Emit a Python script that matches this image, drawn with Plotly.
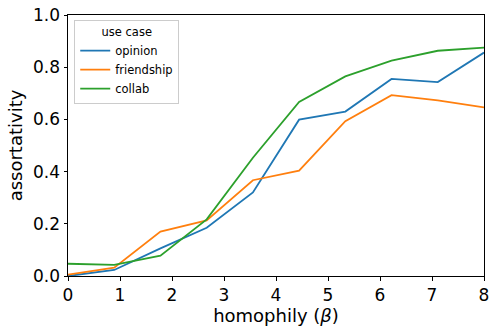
import plotly.graph_objects as go

FONT = "DejaVu Sans"
BLUE = "#1f77b4"
ORANGE = "#ff7f0e"
GREEN = "#2ca02c"

beta = [0, 0.889, 1.778, 2.667, 3.556, 4.444, 5.333, 6.222, 7.111, 8]
opinion = [0.0, 0.023, 0.106, 0.185, 0.32, 0.599, 0.63, 0.755, 0.743, 0.856]
friendship = [0.005, 0.032, 0.17, 0.213, 0.367, 0.404, 0.593, 0.693, 0.673, 0.646]
collab = [0.047, 0.043, 0.078, 0.217, 0.453, 0.667, 0.765, 0.825, 0.863, 0.875]

fig = go.Figure()
for name, ys, color in [("opinion", opinion, BLUE),
                        ("friendship", friendship, ORANGE),
                        ("collab", collab, GREEN)]:
    fig.add_trace(go.Scatter(
        x=beta, y=ys, mode="lines", name=name,
        line=dict(color=color, width=1.8),
    ))

fig.update_layout(
    width=499, height=335,
    plot_bgcolor="white", paper_bgcolor="white",
    font=dict(family=FONT, color="black", size=17),
    margin=dict(l=68, r=15, t=15, b=59),
    legend=dict(
        x=0.015, y=0.98, xanchor="left", yanchor="top",
        title=dict(text="use case", side="top center", font=dict(size=11.5)),
        font=dict(size=11.5),
        bgcolor="rgba(255,255,255,0.8)",
        bordercolor="#cccccc", borderwidth=1,
        itemwidth=30, tracegroupgap=0,
    ),
)
fig.update_xaxes(
    range=[0, 8], dtick=1, showgrid=False, zeroline=False,
    showline=True, linecolor="black", linewidth=1, mirror=True,
    ticks="outside", ticklen=3.5, tickcolor="black", automargin=False,
    title=dict(text="homophily (<i>β</i>)", standoff=4, font=dict(size=18)),
)
fig.update_yaxes(
    range=[0, 1], dtick=0.2, tickformat=".1f", showgrid=False, zeroline=False,
    showline=True, linecolor="black", linewidth=1, mirror=True,
    ticks="outside", ticklen=3.5, tickcolor="black", automargin=False,
    title=dict(text="assortativity", standoff=5, font=dict(size=18)),
)

# page body has a default 8px margin; drop it so the figure fills the window
fig.write_html("out.html", config={"displayModeBar": False},
               post_script="document.body.style.margin='0px';")
